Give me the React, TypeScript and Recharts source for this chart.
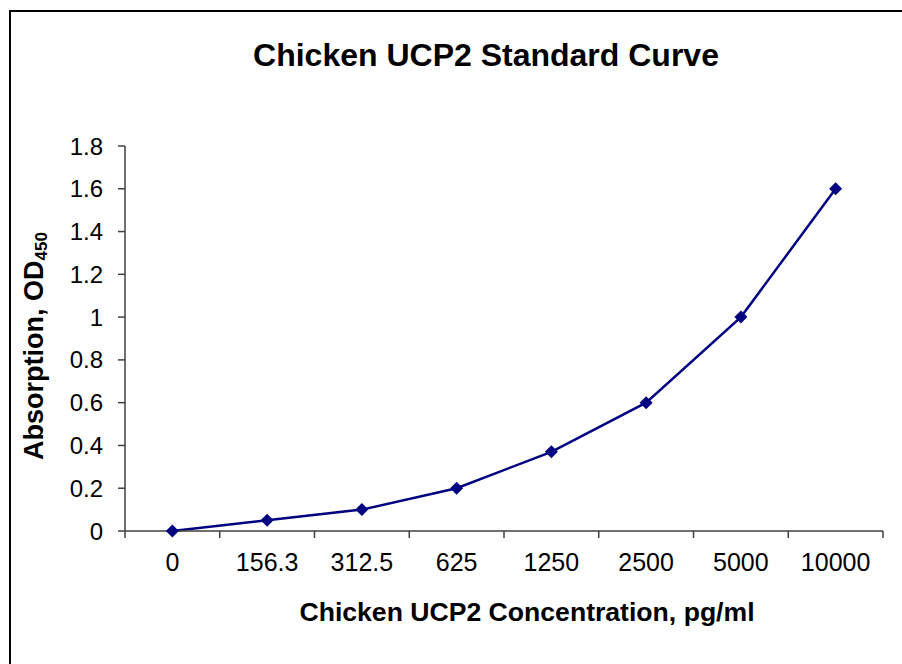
import { Line, LineChart, XAxis, YAxis } from "recharts";

const concentrations = ["0", "156.3", "312.5", "625", "1250", "2500", "5000", "10000"];
const absorbance = [0, 0.05, 0.1, 0.2, 0.37, 0.6, 1.0, 1.6];
const yTicks = [0, 0.2, 0.4, 0.6, 0.8, 1, 1.2, 1.4, 1.6, 1.8];

// x sits in the middle of each category slot, tick marks go between slots
const chartData = concentrations.map((c, i) => ({
  x: i + 0.5,
  label: c,
  od: absorbance[i],
}));
const slotTicks = concentrations.map((_, i) => i).concat(concentrations.length);

const font = "Arial, 'Liberation Sans', sans-serif";

const Diamond = (props: any) => {
  const { cx, cy } = props;
  if (cx == null || cy == null) return null;
  const r = 6.5;
  return (
    <path
      d={`M${cx},${cy - r}L${cx + r},${cy}L${cx},${cy + r}L${cx - r},${cy}Z`}
      fill="#000080"
      stroke="none"
    />
  );
};

const CategoryTick = (props: any) => {
  const { x, y, payload, width } = props;
  const idx = payload.value;
  if (idx >= concentrations.length) return null;
  const slot = (width || 758) / concentrations.length;
  return (
    <text
      x={x + slot / 2}
      y={y + 33}
      textAnchor="middle"
      fontSize={25}
      fontFamily={font}
      fill="#000"
    >
      {concentrations[idx]}
    </text>
  );
};

export default function App() {
  return (
    <div
      style={{
        position: "absolute",
        left: 0,
        top: 0,
        width: 902,
        height: 664,
        background: "#fff",
        overflow: "hidden",
      }}
    >
      <div
        style={{
          position: "absolute",
          left: 9,
          top: 10,
          width: 940,
          height: 700,
          border: "2.5px solid #000",
          boxSizing: "border-box",
        }}
      />
      <div style={{ position: "absolute", left: 0, top: 0 }}>
        <LineChart
          width={902}
          height={664}
          data={chartData}
          margin={{ top: 146, right: 19, bottom: 73, left: 0 }}
        >
          <XAxis
            dataKey="x"
            type="number"
            domain={[0, concentrations.length]}
            ticks={slotTicks}
            interval={0}
            height={60}
            tickSize={7}
            tickMargin={0}
            stroke="#404040"
            strokeWidth={1.5}
            tick={<CategoryTick />}
          />
          <YAxis
            type="number"
            domain={[0, 1.8]}
            ticks={yTicks}
            interval={0}
            width={125}
            tickSize={7}
            tickMargin={15}
            stroke="#404040"
            strokeWidth={1.5}
            tick={{ fontSize: 24, fill: "#000", fontFamily: font }}
          />
          <Line
            type="linear"
            dataKey="od"
            stroke="#000080"
            strokeWidth={2.5}
            dot={<Diamond />}
            activeDot={false}
            isAnimationActive={false}
          />
        </LineChart>
      </div>
      <svg
        width={902}
        height={664}
        style={{ position: "absolute", left: 0, top: 0, pointerEvents: "none" }}
      >
        <text
          x={486}
          y={66}
          textAnchor="middle"
          fontSize={32}
          fontWeight="bold"
          fontFamily={font}
          fill="#000"
        >
          Chicken UCP2 Standard Curve
        </text>
        <text
          x={527}
          y={621}
          textAnchor="middle"
          fontSize={26.6}
          fontWeight="bold"
          fontFamily={font}
          fill="#000"
        >
          Chicken UCP2 Concentration, pg/ml
        </text>
        <text
          transform="translate(43,346) rotate(-90)"
          textAnchor="middle"
          fontSize={27}
          fontWeight="bold"
          fontFamily={font}
          fill="#000"
        >
          Absorption, OD
          <tspan fontSize={17} dy={4}>
            450
          </tspan>
        </text>
      </svg>
    </div>
  );
}
